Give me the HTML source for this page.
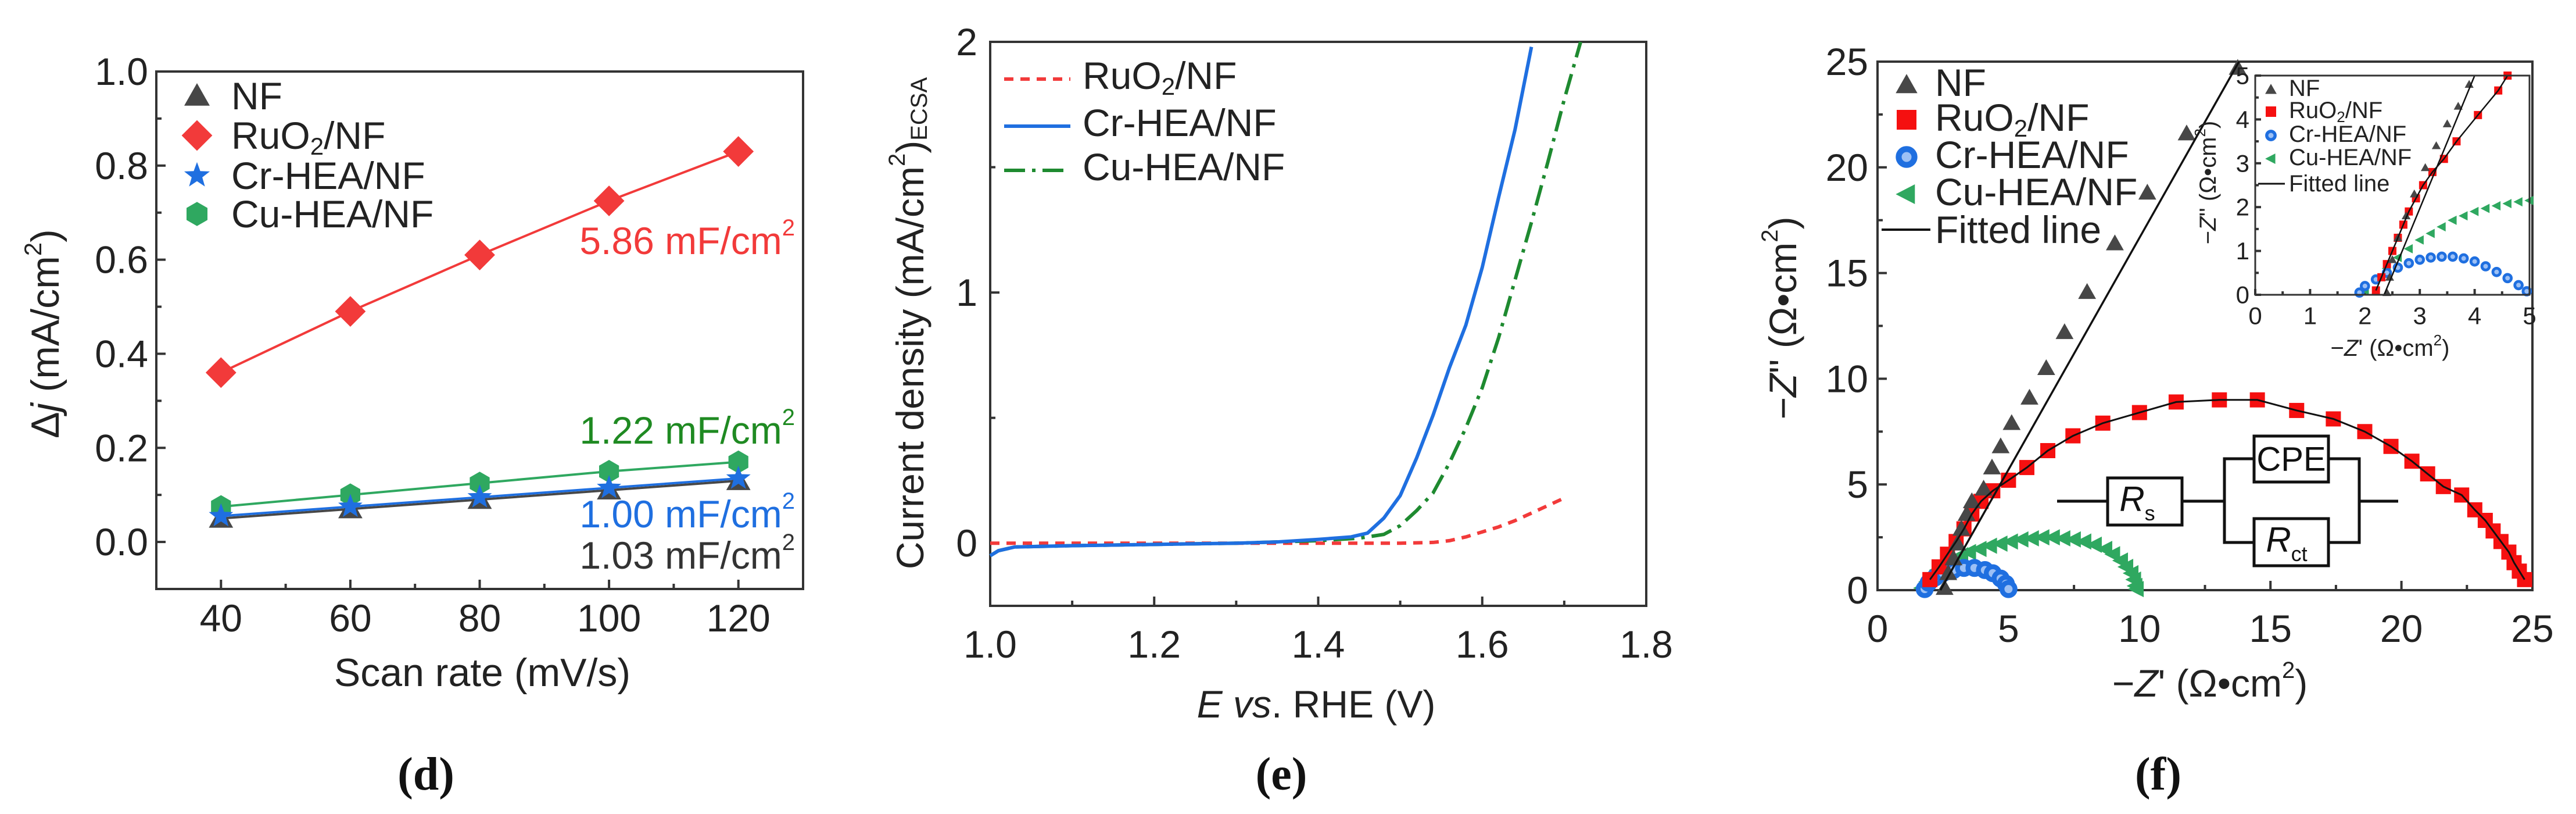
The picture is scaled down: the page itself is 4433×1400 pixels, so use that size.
<!DOCTYPE html>
<html><head><meta charset="utf-8"><style>
html,body{margin:0;padding:0;background:#fff;}
svg{display:block;font-family:"Liberation Sans",sans-serif;}
</style></head><body>
<svg id="fig" width="4433" height="1400" viewBox="0 0 4433 1400" xmlns="http://www.w3.org/2000/svg">
<rect width="4433" height="1400" fill="#fff"/>
<g id="pd"></g>
<g id="pe"></g>
<g id="pf"></g>
</svg>
<script>
// ---------- Panel d data ----------
const dScan = [40, 60, 80, 100, 120];
const dNF   = [0.05, 0.07, 0.09, 0.11, 0.13];
const dRuO2 = [0.36, 0.49, 0.61, 0.725, 0.83];
const dCr   = [0.055, 0.075, 0.095, 0.115, 0.135];
const dCu   = [0.075, 0.10, 0.125, 0.15, 0.17];
const dXTicks = [40, 60, 80, 100, 120];
const dYTicks = [0.0, 0.2, 0.4, 0.6, 0.8, 1.0];
const dYTickLabels = ["0.0", "0.2", "0.4", "0.6", "0.8", "1.0"];
// ---------- Panel e data ----------
const eCrX = [1.0,1.01,1.03,1.1,1.2,1.3,1.35,1.4,1.44,1.46,1.48,1.5,1.52,1.54,1.56,1.58,1.6,1.62,1.64,1.66];
const eCrY = [-0.05,-0.03,-0.015,-0.01,-0.005,0,0.005,0.015,0.025,0.04,0.1,0.19,0.34,0.51,0.70,0.87,1.10,1.38,1.65,1.98];
const eCuX = [1.0,1.01,1.03,1.1,1.2,1.3,1.4,1.45,1.48,1.5,1.52,1.54,1.56,1.58,1.6,1.62,1.64,1.66,1.68,1.70,1.72];
const eCuY = [-0.05,-0.03,-0.015,-0.01,-0.005,0,0.01,0.02,0.035,0.07,0.13,0.2,0.32,0.46,0.62,0.82,1.05,1.28,1.52,1.77,2.0];
const eRuX = [1.0,1.1,1.2,1.3,1.4,1.5,1.54,1.56,1.58,1.6,1.62,1.64,1.66,1.68,1.70];
const eRuY = [0,0,0,0,0,0,0.003,0.01,0.025,0.045,0.065,0.09,0.12,0.15,0.18];
const eXTicks = [1.0, 1.2, 1.4, 1.6, 1.8];
const eXTickLabels = ["1.0", "1.2", "1.4", "1.6", "1.8"];
const eYTicks = [0, 1, 2];
// ---------- Panel f data ----------
const fNF = [[2.56,0.1],[2.7,0.8],[2.9,1.5],[3.05,2.2],[3.2,2.9],[3.4,3.6],[3.6,4.2],[4.05,4.8],[4.37,5.8],[4.7,6.8],[5.12,7.9],[5.8,9.1],[6.44,10.5],[7.14,12.2],[8.0,14.1],[9.06,16.4],[10.3,18.8],[11.8,21.6],[13.75,24.7]];
const fNFfit = [[2.4,0],[13.8,25]];
const fRu = [[2.0,0.5],[2.35,1.1],[2.67,1.7],[3.0,2.3],[3.3,2.9],[3.6,3.6],[3.95,4.2],[4.4,4.7],[5.0,5.2],[5.7,5.8],[6.5,6.6],[7.46,7.3],[8.6,7.9],[10.0,8.4],[11.4,8.9],[13.05,9.0],[14.5,9.0],[16.0,8.5],[17.4,8.1],[18.6,7.5],[19.6,6.8],[20.4,6.1],[21.0,5.5],[21.6,4.9],[22.3,4.5],[22.8,3.8],[23.2,3.3],[23.5,2.8],[23.8,2.3],[24.1,1.8],[24.3,1.3],[24.5,0.9],[24.7,0.5]];
const fCr = [[1.8,0.05],[1.95,0.35],[2.2,0.6],[2.5,0.8],[2.9,0.95],[3.3,1.05],[3.7,1.05],[4.1,0.95],[4.4,0.8],[4.7,0.55],[4.9,0.3],[5.0,0.05]];
const fCu = [[1.7,0.1],[1.9,0.4],[2.1,0.7],[2.3,0.95],[2.6,1.2],[2.9,1.45],[3.2,1.65],[3.5,1.8],[3.9,1.95],[4.3,2.1],[4.7,2.2],[5.1,2.3],[5.5,2.4],[5.9,2.45],[6.3,2.5],[6.7,2.5],[7.1,2.45],[7.5,2.4],[7.9,2.3],[8.3,2.15],[8.7,1.95],[9.0,1.7],[9.3,1.4],[9.5,1.1],[9.7,0.8],[9.8,0.5],[9.85,0.2],[9.9,0.05]];
const fTicks = [0, 5, 10, 15, 20, 25];
const iNF = [[2.4,0.05],[2.45,0.4],[2.5,0.8],[2.6,1.3],[2.75,1.8],[2.9,2.3],[3.1,2.9],[3.3,3.4],[3.5,3.9],[3.7,4.3],[3.9,4.8]];
const iNFfit = [[2.35,0],[4.0,5]];
const iRu = [[2.2,0.1],[2.3,0.4],[2.4,0.7],[2.5,1.0],[2.6,1.3],[2.7,1.6],[2.8,1.9],[2.93,2.2],[3.06,2.5],[3.23,2.8],[3.44,3.1],[3.67,3.5],[4.06,4.1],[4.43,4.66],[4.6,5.0]];
const iCr = [[1.9,0.05],[2.0,0.2],[2.2,0.35],[2.4,0.5],[2.6,0.62],[2.8,0.72],[3.0,0.8],[3.2,0.85],[3.4,0.87],[3.6,0.87],[3.8,0.83],[4.0,0.76],[4.2,0.65],[4.4,0.52],[4.6,0.38],[4.8,0.22],[4.95,0.08]];
const iCu = [[2.0,0.1],[2.2,0.35],[2.4,0.6],[2.6,0.85],[2.8,1.05],[3.0,1.25],[3.2,1.4],[3.4,1.55],[3.6,1.7],[3.8,1.8],[4.0,1.9],[4.2,1.97],[4.4,2.03],[4.6,2.08],[4.8,2.12],[5.0,2.15]];
const iTicks = [0, 1, 2, 3, 4, 5];

const NS = "http://www.w3.org/2000/svg";
const RED = "#f23a3a", BLUE = "#1f6fe0", GREEN = "#2fa860", GREY = "#474747";
function el(tag, attrs, parent){ const e=document.createElementNS(NS,tag); for(const k in attrs) e.setAttribute(k,attrs[k]); parent.appendChild(e); return e; }
function lin(d0,d1,p0,p1){ return v => p0 + (v-d0)/(d1-d0)*(p1-p0); }
function txt(parent, x, y, s, size, anchor, fill, extra){
  const t = el('text', {x:x, y:y, 'font-size':size, 'text-anchor':anchor||'start', fill:fill||'#222', 'dominant-baseline':'central'}, parent);
  if (extra) for (const k in extra) t.setAttribute(k, extra[k]);
  t.textContent = s; return t;
}
function marker(parent, type, x, y, s, color){
  let m;
  if (type==='tri') m = el('polygon',{points:`${x},${y-s*0.55} ${x-s*0.55},${y+s*0.42} ${x+s*0.55},${y+s*0.42}`, fill:color}, parent);
  else if (type==='ltri') m = el('polygon',{points:`${x-s*0.55},${y} ${x+s*0.42},${y-s*0.5} ${x+s*0.42},${y+s*0.5}`, fill:color}, parent);
  else if (type==='dia') m = el('polygon',{points:`${x},${y-s*0.6} ${x+s*0.6},${y} ${x},${y+s*0.6} ${x-s*0.6},${y}`, fill:color}, parent);
  else if (type==='sq') m = el('rect',{x:x-s/2, y:y-s/2, width:s, height:s, fill:color}, parent);
  else if (type==='hex'){ let p=[]; for(let i=0;i<6;i++){const a=Math.PI/6+i*Math.PI/3; p.push((x+s*0.52*Math.cos(a))+','+(y+s*0.52*Math.sin(a)));} m = el('polygon',{points:p.join(' '), fill:color}, parent); }
  else if (type==='star'){ let p=[]; for(let i=0;i<10;i++){const r=i%2?s*0.24:s*0.58; const a=-Math.PI/2+i*Math.PI/5; p.push((x+r*Math.cos(a))+','+(y+r*Math.sin(a)));} m = el('polygon',{points:p.join(' '), fill:color}, parent); }
  else if (type==='circ') m = el('circle',{cx:x, cy:y, r:s*0.4, fill:'#9cc0f5', stroke:color, 'stroke-width':s*0.3}, parent);
  return m;
}
function frame(g, x0,y0,x1,y1, name){
  const r = el('rect',{x:x0,y:y0,width:x1-x0,height:y1-y0,fill:'none',stroke:'#333','stroke-width':4}, g);
  
  
}
function xTick(g,x,y,len){ el('line',{x1:x,y1:y,x2:x,y2:y-len,stroke:'#333','stroke-width':4},g); }
function yTick(g,x,y,len){ el('line',{x1:x,y1:y,x2:x+len,y2:y,stroke:'#333','stroke-width':4},g); }

// ================= Panel d =================
(function(){
  const g = document.getElementById('pd');
  const L=269,R=1382,T=123,B=1013;
  const X = lin(30,130,L,R), Y = lin(-0.1,1.0,B,T);
  frame(g,L,T,R,B,'plot-frame-d');
  dXTicks.forEach(v=>{ xTick(g,X(v),B,16); const t=txt(g,X(v),1063,String(v),66,'middle','#222');
      });
  [50,70,90,110].forEach(v=>xTick(g,X(v),B,9));
  dYTicks.forEach((v,i)=>{ yTick(g,L,Y(v),16); const t=txt(g,L-14,Y(v),dYTickLabels[i],66,'end','#222');
      });
  [0.1,0.3,0.5,0.7,0.9].forEach(v=>yTick(g,L,Y(v),9));
  const series = [[dRuO2,RED,'dia','ruo2'],[dCu,GREEN,'hex','cu-hea'],[dNF,GREY,'tri','nf'],[dCr,BLUE,'star','cr-hea']];
  series.forEach(([arr,c,m,n])=>{
    const pl = el('polyline',{points:dScan.map((x,i)=>X(x)+','+Y(arr[i])).join(' '), fill:'none', stroke:c, 'stroke-width':4}, g);
    
    
    dScan.forEach((x,i)=>{ const mk=marker(g,m,X(x),Y(arr[i]),m==='dia'?44:38,c);
      
       });
  });
  const leg = [['tri',GREY,'NF',165],['dia',RED,'RuO2/NF',233],['star',BLUE,'Cr-HEA/NF',302],['hex',GREEN,'Cu-HEA/NF',368]];
  leg.forEach(([m,c,s,y])=>{ marker(g,m,339,y,m==='dia'?44:40,c);
    const t = txt(g,398,y,'',66,'start','#222');
     
    if (s==='RuO2/NF'){ t.innerHTML='RuO<tspan font-size="42" dy="18">2</tspan><tspan dy="-18">/NF</tspan>'; } else t.textContent=s; });
  const ann = [['5.86 mF/cm',RED,414],['1.22 mF/cm','#1f8a22',740],['1.00 mF/cm',BLUE,884],['1.03 mF/cm','#333',955]];
  ann.forEach(([s,c,y])=>{ const t=txt(g,1368,y,'',66,'end',c);
    t.innerHTML = s + '<tspan font-size="40" dy="-22">2</tspan>';
      });
  const yt = txt(g,0,0,'',68,'middle','#222',{transform:'translate(78,574) rotate(-90)'});
  yt.innerHTML='Δ<tspan font-style="italic">j</tspan> (mA/cm<tspan font-size="42" dy="-22">2</tspan><tspan dy="22">)</tspan>';
   
  const xt = txt(g,830,1157,'Scan rate (mV/s)',68,'middle','#222');
   
  const pl = txt(g,733,1332,'(d)',80,'middle','#111',{'font-family':'Liberation Serif, serif','font-weight':'bold'});
   
})();

// ================= Panel e =================
(function(){
  const g = document.getElementById('pe');
  const L=1704,R=2833,T=72,B=1042;
  const X = lin(1.0,1.8,L,R), Y = lin(-0.25,2.0,B,T);
  frame(g,L,T,R,B,'plot-frame-e');
  eXTicks.forEach((v,i)=>{ xTick(g,X(v),B,16); const t=txt(g,X(v),1108,eXTickLabels[i],66,'middle','#222');
      });
  [1.1,1.3,1.5,1.7].forEach(v=>xTick(g,X(v),B,9));
  eYTicks.forEach(v=>{ yTick(g,L,Y(v),16); const t=txt(g,L-22,Y(v),String(v),66,'end','#222');
      });
  [0.5,1.5].forEach(v=>yTick(g,L,Y(v),9));
  const defs = [[eRuX,eRuY,RED,'16 12','ruo2-curve'],[eCuX,eCuY,'#1e8a30','36 12 6 12','cu-hea-curve'],[eCrX,eCrY,BLUE,'','cr-hea-curve']];
  defs.forEach(([xs,ys,c,da,n])=>{
    const p = el('polyline',{points:xs.map((x,i)=>X(x)+','+Y(ys[i])).join(' '), fill:'none', stroke:c, 'stroke-width':6, 'stroke-dasharray':da, 'stroke-linejoin':'round'}, g);
    
    
  });
  const leg=[[RED,'16 12','RuO2/NF',130],[BLUE,'','Cr-HEA/NF',211],['#1e8a30','36 12 6 12','Cu-HEA/NF',287]];
  leg.forEach(([c,da,s,y])=>{ el('line',{x1:1728,y1:y+6,x2:1842,y2:y+6,stroke:c,'stroke-width':6,'stroke-dasharray':da},g);
    const t=txt(g,1863,y,'',66,'start','#222');
     
    if (s==='RuO2/NF'){ t.innerHTML='RuO<tspan font-size="42" dy="18">2</tspan><tspan dy="-18">/NF</tspan>'; } else t.textContent=s; });
  const yt = txt(g,0,0,'',66,'middle','#222',{transform:'translate(1566,556) rotate(-90)'});
  yt.innerHTML='Current density (mA/cm<tspan font-size="40" dy="-22">2</tspan><tspan dy="22">)</tspan><tspan font-size="40" dy="16">ECSA</tspan>';
   
  const xt = txt(g,2265,1211,'',66,'middle','#222');
  xt.innerHTML='<tspan font-style="italic">E vs</tspan>. RHE (V)';
   
  const pl = txt(g,2205,1332,'(e)',80,'middle','#111',{'font-family':'Liberation Serif, serif','font-weight':'bold'});
   
})();

// ================= Panel f =================
(function(){
  const g = document.getElementById('pf');
  const L=3231,R=4358,T=106,B=1015;
  const X = lin(0,25,L,R), Y = lin(0,25,B,T);
  frame(g,L,T,R,B,'plot-frame-f');
  fTicks.forEach(v=>{ xTick(g,X(v),B,16); yTick(g,L,Y(v),16);
    const t=txt(g,X(v),1081,String(v),66,'middle','#222');
     
    const t2=txt(g,L-16,Y(v),String(v),66,'end','#222');
      });
  [2.5,7.5,12.5,17.5,22.5].forEach(v=>{ xTick(g,X(v),B,9); yTick(g,L,Y(v),9); });
  const line = (pts,Xf,Yf,w,n)=>{ const p=el('polyline',{points:pts.map(q=>Xf(q[0])+','+Yf(q[1])).join(' '),fill:'none',stroke:'#111','stroke-width':w},g);
      };
  const pts = (arr,Xf,Yf,m,s,c,n)=>arr.forEach(q=>{ const mk=marker(g,m,Xf(q[0]),Yf(q[1]),s,c);
      });
  pts(fCu,X,Y,'ltri',28,GREEN,'cu-hea-point');
  pts(fCr,X,Y,'circ',28,BLUE,'cr-hea-point');
  pts(fRu,X,Y,'sq',26,'#f51010','ruo2-point');
  pts(fNF,X,Y,'tri',28,GREY,'nf-point');
  line(fRu,X,Y,3,'ruo2-fitted-line');
  line(fNFfit,X,Y,3.5,'nf-fitted-line');
  const leg=[['tri',GREY,'NF',142],['sq','#f51010','RuO2/NF',202],['circ',BLUE,'Cr-HEA/NF',266],['ltri',GREEN,'Cu-HEA/NF',330]];
  leg.forEach(([m,c,s,y])=>{ marker(g,m,3281,y+4,34,c);
    const t=txt(g,3330,y,'',66,'start','#222');
     
    if (s==='RuO2/NF'){ t.innerHTML='RuO<tspan font-size="42" dy="18">2</tspan><tspan dy="-18">/NF</tspan>'; } else t.textContent=s; });
  el('line',{x1:3238,y1:395,x2:3322,y2:395,stroke:'#111','stroke-width':4},g);
  const tf=txt(g,3330,395,'Fitted line',66,'start','#222');
   
  const cg = el('g',{stroke:'#111','stroke-width':5,fill:'none'},g);
   
  el('line',{x1:3540,y1:862,x2:3627,y2:862},cg);
  el('rect',{x:3627,y:822,width:128,height:81,fill:'#fff'},cg);
  el('line',{x1:3755,y1:862,x2:3828,y2:862},cg);
  el('polyline',{points:'3879,789 3828,789 3828,933 3879,933'},cg);
  el('polyline',{points:'4007,789 4060,789 4060,933 4007,933'},cg);
  el('rect',{x:3879,y:750,width:128,height:79,fill:'#fff'},cg);
  el('rect',{x:3879,y:892,width:128,height:81,fill:'#fff'},cg);
  el('line',{x1:4060,y1:862,x2:4127,y2:862},cg);
  const rs=txt(g,3678,858,'',60,'middle','#111'); rs.innerHTML='<tspan font-style="italic">R</tspan><tspan font-size="36" dy="24">s</tspan>';
   
  const cpe=txt(g,3943,790,'CPE',58,'middle','#111');
   
  const rct=txt(g,3935,928,'',60,'middle','#111'); rct.innerHTML='<tspan font-style="italic">R</tspan><tspan font-size="36" dy="24">ct</tspan>';
   
  const yt = txt(g,0,0,'',66,'middle','#222',{transform:'translate(3068,547) rotate(-90)'});
  yt.innerHTML='−<tspan font-style="italic">Z</tspan>\'\' (Ω•cm<tspan font-size="40" dy="-22">2</tspan><tspan dy="22">)</tspan>';
   
  const xt = txt(g,3803,1175,'',66,'middle','#222');
  xt.innerHTML='−<tspan font-style="italic">Z</tspan>\' (Ω•cm<tspan font-size="40" dy="-22">2</tspan><tspan dy="22">)</tspan>';
   
  const pl = txt(g,3714,1332,'(f)',80,'middle','#111',{'font-family':'Liberation Serif, serif','font-weight':'bold'});
   

  const IL=3881,IR=4353,IT=130,IB=507;
  const bg = el('rect',{x:IL,y:IT,width:IR-IL,height:IB-IT,fill:'#fff'},g);
   
  const IX = lin(0,5,IL,IR), IY = lin(0,5,IB,IT);
  iTicks.forEach(v=>{ xTick(g,IX(v),IB,10); yTick(g,IL,IY(v),10);
    const t=txt(g,IX(v),543,String(v),42,'middle','#222');
     
    const t2=txt(g,IL-10,IY(v),String(v),42,'end','#222');
      });
  [0.5,1.5,2.5,3.5,4.5].forEach(v=>{ xTick(g,IX(v),IB,6); yTick(g,IL,IY(v),6); });
  pts(iCu,IX,IY,'ltri',16,GREEN,'inset-cu-hea-point');
  pts(iCr,IX,IY,'circ',16,BLUE,'inset-cr-hea-point');
  pts(iRu,IX,IY,'sq',14,'#f51010','inset-ruo2-point');
  pts(iNF,IX,IY,'tri',14,GREY,'inset-nf-point');
  line(iRu,IX,IY,2.5,'inset-ruo2-fitted-line');
  line(iNFfit,IX,IY,2.5,'inset-nf-fitted-line');
  const ir = el('rect',{x:IL,y:IT,width:IR-IL,height:IB-IT,fill:'none',stroke:'#333','stroke-width':3},g);
   
  const ileg=[['tri',GREY,'NF',152],['sq','#f51010','RuO2/NF',190],['circ',BLUE,'Cr-HEA/NF',231],['ltri',GREEN,'Cu-HEA/NF',271]];
  ileg.forEach(([m,c,s,y])=>{ marker(g,m,3908,y+2,18,c);
    const t=txt(g,3939,y,'',40,'start','#222');
     
    if (s==='RuO2/NF'){ t.innerHTML='RuO<tspan font-size="26" dy="11">2</tspan><tspan dy="-11">/NF</tspan>'; } else t.textContent=s; });
  el('line',{x1:3886,y1:316,x2:3932,y2:316,stroke:'#111','stroke-width':3},g);
  const itf=txt(g,3939,316,'Fitted line',40,'start','#222');
   
  const iyt = txt(g,0,0,'',40,'middle','#222',{transform:'translate(3800,314) rotate(-90)'});
  iyt.innerHTML='−<tspan font-style="italic">Z</tspan>\'\' (Ω•cm<tspan font-size="26" dy="-14">2</tspan><tspan dy="14">)</tspan>';
   
  const ixt = txt(g,4113,599,'',40,'middle','#222');
  ixt.innerHTML='−<tspan font-style="italic">Z</tspan>\' (Ω•cm<tspan font-size="26" dy="-14">2</tspan><tspan dy="14">)</tspan>';
   
})();
</script>
</body></html>
